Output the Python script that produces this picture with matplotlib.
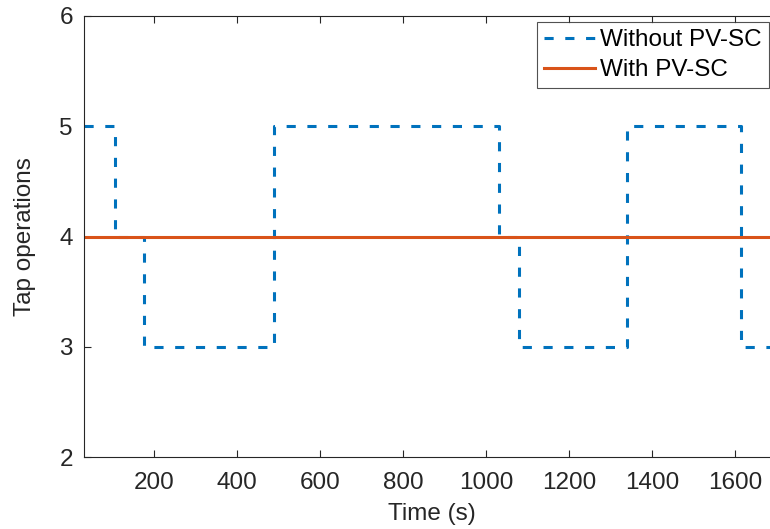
import matplotlib
matplotlib.use("Agg")
import matplotlib.pyplot as plt

# Step switching instants (s) and tap position held after each instant
switch_times = [31, 105, 175, 488, 1030, 1080, 1340, 1615, 1710]
taps_without = [5, 4, 3, 5, 4, 3, 5, 3, 3]
taps_with = [4, 4]
with_times = [31, 1710]

x_ticks = [200, 400, 600, 800, 1000, 1200, 1400, 1600]
y_ticks = [2, 3, 4, 5, 6]

blue = "#0072BD"
orange = "#D95319"
axis_gray = "#262626"
fs = 17.5

plt.rcParams["font.family"] = ["Liberation Sans", "DejaVu Sans"]
plt.rcParams["font.size"] = fs

fig = plt.figure(figsize=(7.7, 5.29), dpi=100)
W, H = 770, 529
ax = fig.add_axes([84 / W, (H - 457) / H, (780 - 84) / W, (457 - 16) / H])

ax.step(switch_times, taps_without, where="post", color=blue, lw=2.2,
        dashes=(3.0, 3.8), label="Without PV-SC")
ax.plot(with_times, taps_with, color=orange, lw=2.2, label="With PV-SC")

ax.set_xlim(31, 1708)
ax.set_ylim(2, 6)
ax.set_xticks(x_ticks)
ax.set_yticks(y_ticks)

for side in ["left", "bottom", "top"]:
    ax.spines[side].set_color(axis_gray)
    ax.spines[side].set_linewidth(0.8)
ax.spines["right"].set_visible(False)
ax.tick_params(direction="in", length=5, width=0.8, color=axis_gray,
               labelcolor=axis_gray, top=True, labelsize=fs)
ax.tick_params(axis="x", pad=11)
ax.tick_params(axis="y", pad=8)

ax.set_xlabel("Time (s)", color=axis_gray, fontsize=fs, labelpad=6)
ax.set_ylabel("Tap operations", color=axis_gray, fontsize=fs, labelpad=17)

leg = ax.legend(loc="upper right", bbox_to_anchor=(769 / W, 1 - 22 / H),
                bbox_transform=fig.transFigure, fontsize=fs, frameon=True,
                fancybox=False, borderpad=0.3, handlelength=2.1,
                handletextpad=0.2, labelspacing=0.32, borderaxespad=0)
leg.get_frame().set_edgecolor(axis_gray)
leg.get_frame().set_linewidth(0.8)

fig.savefig("out.png", dpi=100)
